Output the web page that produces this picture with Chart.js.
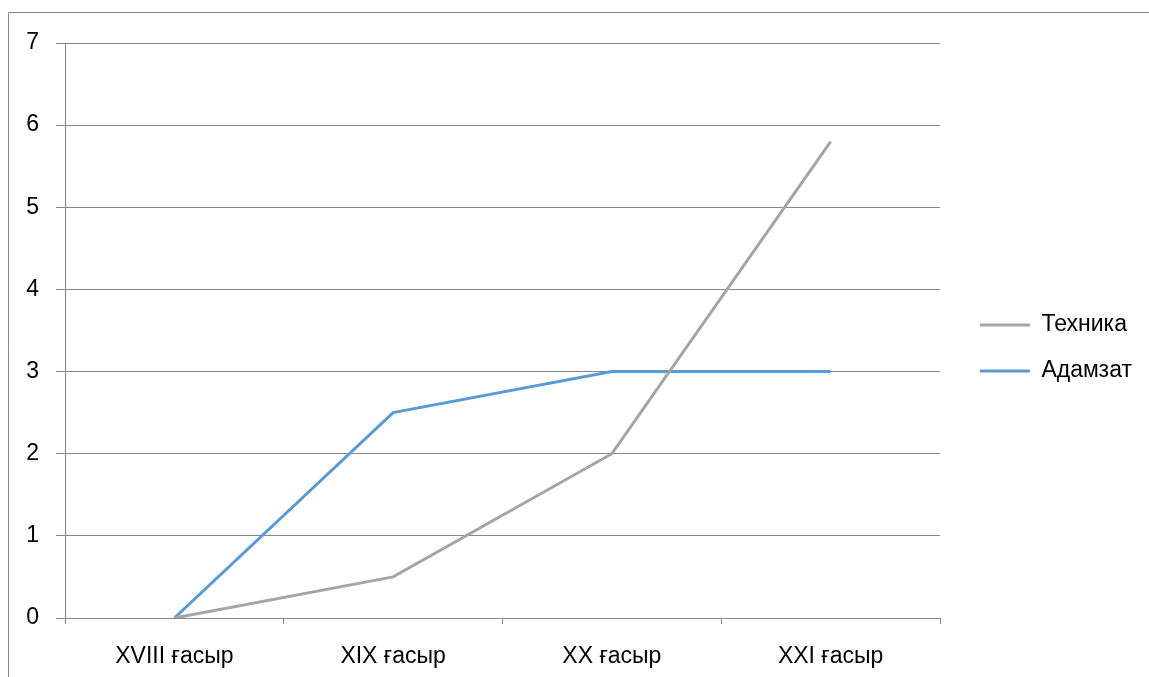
<!DOCTYPE html>
<html>
<head>
<meta charset="utf-8">
<script src="https://cdn.jsdelivr.net/npm/chart.js@4"></script>
<style>
  html, body { margin: 0; padding: 0; background: #ffffff; }
  canvas { display: block; }
</style>
</head>
<body>
<canvas id="chart" width="1149" height="677"></canvas>
<script>
// Centuries along the horizontal axis
const categories = ['XVIII ғасыр', 'XIX ғасыр', 'XX ғасыр', 'XXI ғасыр'];
// Series names and values per century
const seriesNames = ['Техника', 'Адамзат'];
const tekhnika = [0, 0.5, 2, 5.8];
const adamzat = [0, 2.5, 3, 3];
// Vertical axis range
const yMin = 0;
const yMax = 7;
const yStep = 1;

const FONT = "'Liberation Sans', Arial, sans-serif";
const FONT_SIZE = 23;
const GRID = '#888888';
const CANVAS_W = 1149;

// Legend geometry: item start, sample line length, spacing
const LEGEND_LEFT = 957;
const LEGEND_PAD = 23;
const LEGEND_LINE = 50;

Chart.defaults.font.family = FONT;
Chart.defaults.font.size = FONT_SIZE;
Chart.defaults.color = '#000000';

// Width the legend box will take, so the plot keeps its right edge
const measureCtx = document.createElement('canvas').getContext('2d');
measureCtx.font = FONT_SIZE + 'px ' + FONT;
const maxLabelW = Math.max(...seriesNames.map(t => measureCtx.measureText(t).width));
const legendW = LEGEND_PAD + LEGEND_LINE + FONT_SIZE / 2 + maxLabelW + 10;
const rightPad = Math.max(0, CANVAS_W - LEGEND_LEFT - legendW);

// Thin frame around the chart, open at the right and bottom
const framePlugin = {
  id: 'frame',
  beforeDraw(chart) {
    const ctx = chart.ctx;
    ctx.save();
    ctx.fillStyle = '#ffffff';
    ctx.fillRect(0, 0, chart.width, chart.height);
    ctx.strokeStyle = GRID;
    ctx.lineWidth = 1;
    ctx.beginPath();
    ctx.moveTo(8.5, chart.height);
    ctx.lineTo(8.5, 12.5);
    ctx.lineTo(chart.width, 12.5);
    ctx.stroke();
    ctx.restore();
  }
};

new Chart(document.getElementById('chart'), {
  type: 'line',
  data: {
    labels: categories,
    datasets: [
      {
        label: seriesNames[0],
        data: tekhnika,
        borderColor: '#A5A5A5',
        backgroundColor: '#A5A5A5',
        borderWidth: 3,
        pointRadius: 0,
        tension: 0,
        fill: false
      },
      {
        label: seriesNames[1],
        data: adamzat,
        borderColor: '#5B9BD5',
        backgroundColor: '#5B9BD5',
        borderWidth: 3,
        pointRadius: 0,
        tension: 0,
        fill: false
      }
    ]
  },
  options: {
    responsive: false,
    animation: false,
    layout: { padding: { left: 0, right: rightPad, top: 43, bottom: 0 } },
    plugins: {
      tooltip: { enabled: false },
      legend: {
        position: 'right',
        fullSize: false,
        title: {
          display: true,
          text: ' ',
          font: { size: 10, lineHeight: 1.2 },
          padding: { top: 11.5, bottom: 11.5 }
        },
        labels: {
          usePointStyle: true,
          pointStyle: 'line',
          pointStyleWidth: LEGEND_LINE,
          padding: LEGEND_PAD,
          color: '#000000',
          font: { family: FONT, size: FONT_SIZE }
        }
      }
    },
    scales: {
      x: {
        type: 'category',
        offset: true,
        afterFit(scale) { scale.height = 59; },
        grid: {
          offset: true,
          drawOnChartArea: false,
          drawTicks: true,
          tickLength: 6,
          color: GRID
        },
        border: { display: true, color: GRID, width: 1 },
        ticks: { padding: 19, maxRotation: 0, font: { family: FONT, size: FONT_SIZE } }
      },
      y: {
        min: yMin,
        max: yMax,
        afterFit(scale) { scale.width = 65; },
        grid: { color: GRID, tickLength: 9, drawTicks: true },
        border: { display: true, color: GRID, width: 1 },
        ticks: { stepSize: yStep, padding: 17, font: { family: FONT, size: FONT_SIZE } }
      },
      gap: {
        position: 'right',
        display: true,
        afterFit(scale) { scale.width = 17; },
        grid: { display: false, drawTicks: false },
        border: { display: false },
        ticks: { display: false }
      }
    }
  },
  plugins: [framePlugin]
});
</script>
</body>
</html>
